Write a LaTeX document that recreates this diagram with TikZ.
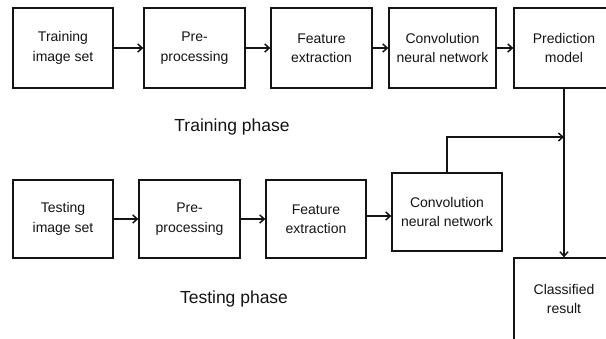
\documentclass[tikz,border=0pt]{standalone}
\usepackage{fontspec}
\setmainfont{Liberation Sans}
\usepackage{tikz}
\usetikzlibrary{arrows.meta,calc,positioning}
\definecolor{tinta}{HTML}{141414}
\tikzset{
  caja/.style={draw=tinta,fill=white,line width=1.3pt,inner sep=2pt,minimum height=80pt,align=center,text=tinta,font=\fontsize{14}{19.5}\selectfont},
  flecha/.style={draw=tinta,line width=1.6pt,-{Straight Barb[length=4.5pt,width=8pt,line width=1.5pt]}},
  fase/.style={text=tinta,font=\fontsize{17.5}{20}\selectfont},
}
\begin{document}
\begin{tikzpicture}[x=1pt,y=-1pt]
\clip (0,0) rectangle (606,338);
\fill[white] (0,0) rectangle (606,338);
% training row
\node[caja,minimum width=100pt] (t1) at (63,48) {Training\\image set};
\node[caja,minimum width=101pt] (t2) at (194.5,48) {Pre-\\processing};
\node[caja,minimum width=101pt] (t3) at (321.5,48) {Feature\\extraction};
\node[caja,minimum width=107pt] (t4) at (442.5,48) {Convolution\\neural network};
\node[caja,minimum width=100pt] (t5) at (564,48) {Prediction\\model};
\node[fase] (fa1) at (232,127) {Training phase};
% testing row
\node[caja,minimum width=100pt,minimum height=78pt] (s1) at (63,219) {Testing\\image set};
\node[caja,minimum width=101pt,minimum height=78pt] (s2) at (189.5,219) {Pre-\\processing};
\node[caja,minimum width=100pt,minimum height=78pt] (s3) at (316,219) {Feature\\extraction};
\node[caja,minimum width=110pt,minimum height=78pt] (s4) at (447,212) {Convolution\\neural network};
\node[caja,minimum width=100pt,minimum height=82pt] (r) at (564,299) {Classified\\result};
\node[fase] (fa2) at (234,299) {Testing phase};
\coordinate (j) at (564,137);
\coordinate (a3) at ($(s3.east)+(0,-3)$);
% connectors
\draw[flecha] (t1) -- (t2);
\draw[flecha] (t2) -- (t3);
\draw[flecha] (t3) -- (t4);
\draw[flecha] (t4) -- (t5);
\draw[flecha] (s1) -- (s2);
\draw[flecha] (s2) -- (s3);
\draw[flecha] (a3) -- (a3 -| s4.west);
\draw[flecha] (t5) -- (r);
\draw[flecha] (s4.north) |- (j);
\end{tikzpicture}
\end{document}
